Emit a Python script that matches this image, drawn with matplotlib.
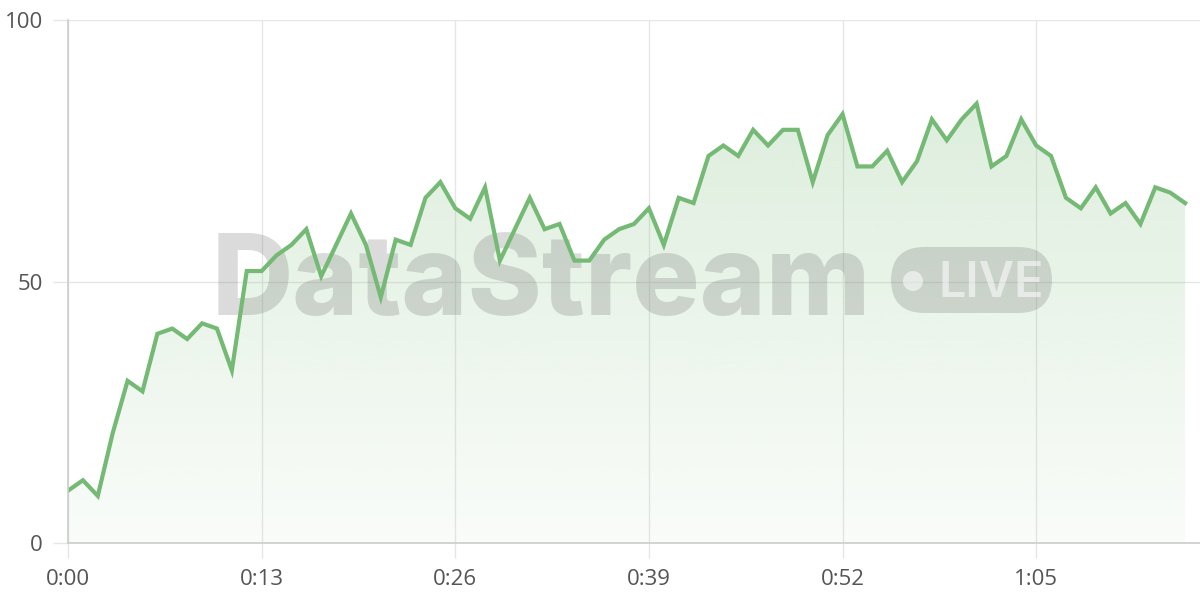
import matplotlib
matplotlib.use("Agg")
import matplotlib.pyplot as plt
import numpy as np
from matplotlib.patches import FancyBboxPatch, Ellipse
from matplotlib.ticker import FuncFormatter

# one reading per second
seconds = list(range(76))
values = [10, 12, 9, 21, 31, 29, 40, 41, 39, 42,
          41, 33, 52, 52, 55, 57, 60, 51, 57, 63,
          57, 47, 58, 57, 66, 69, 64, 62, 68, 54,
          60, 66, 60, 61, 54, 54, 58, 60, 61, 64,
          57, 66, 65, 74, 76, 74, 79, 76, 79, 79,
          69, 78, 82, 72, 72, 75, 69, 73, 81, 77,
          81, 84, 72, 74, 81, 76, 74, 66, 64, 68,
          63, 65, 61, 68, 67, 65]
x_ticks = [0, 13, 26, 39, 52, 65]
y_ticks = [0, 50, 100]

line_color = "#74b974"
grid_color = "#e6e6e6"

plt.rcParams['font.family'] = ['Open Sans', 'DejaVu Sans']

fig = plt.figure(figsize=(12, 6), dpi=100)
ax = fig.add_axes([68 / 1200, 57 / 600, 1 - 68 / 1200, (543 - 20) / 600])

ax.set_xlim(0, 76)
ax.set_ylim(0, 100)

# gradient fill under the line
fill = ax.fill_between(seconds, values, 0, color="none")
grad = np.linspace(0.04, 0.28, 256).reshape(-1, 1)
rgba = np.zeros((256, 1, 4))
rgba[..., 0] = 0x74 / 255
rgba[..., 1] = 0xb9 / 255
rgba[..., 2] = 0x74 / 255
rgba[..., 3] = grad
img = ax.imshow(rgba, extent=[0, 75, 0, 100], origin="lower",
                aspect="auto", zorder=1, interpolation="bicubic")
img.set_clip_path(fill.get_paths()[0], transform=ax.transData)

ax.plot(seconds, values, color=line_color, lw=3, zorder=4,
        solid_joinstyle="miter")

# watermark (positions in figure pixels, y from top)
def fx(px):
    return px / 1200

def fy(py):
    return (600 - py) / 600

ax.text(fx(212), fy(315), "DataStream", transform=fig.transFigure,
        ha="left", va="baseline", fontsize=81, fontweight="heavy",
        family=["Inter", "DejaVu Sans"], color="#7a7a7a", alpha=0.27,
        zorder=3)
badge = FancyBboxPatch((fx(891), fy(313)), 161 / 1200, 66 / 600,
                       boxstyle="round,pad=0,rounding_size=0.028",
                       transform=fig.transFigure, lw=0,
                       facecolor="#7a7a7a", alpha=0.27, zorder=3,
                       mutation_aspect=2)
ax.add_patch(badge)
ax.add_patch(Ellipse((fx(913), fy(281)), 20 / 1200, 20 / 600,
                     transform=fig.transFigure, color="white", alpha=0.55,
                     lw=0, zorder=3))
ax.text(fx(938), fy(297), "LIVE", transform=fig.transFigure,
        ha="left", va="baseline", fontsize=35, fontweight="semibold",
        color="white", alpha=0.55, family=["Inter", "DejaVu Sans"], zorder=3)

# axes styling
ax.set_xticks(x_ticks)
ax.set_yticks(y_ticks)
ax.xaxis.set_major_formatter(FuncFormatter(lambda v, p: f"{int(v) // 60}:{int(v) % 60:02d}"))
ax.grid(True, color=grid_color, lw=1, zorder=0)
ax.set_axisbelow(True)
ax.tick_params(axis="both", length=11, width=1, color=grid_color,
               labelsize=16, labelcolor="#555555")
ax.tick_params(axis="x", pad=8)
ax.tick_params(axis="y", pad=7)
for side in ["top", "right"]:
    ax.spines[side].set_visible(False)
for side in ["left", "bottom"]:
    ax.spines[side].set_color("#cccccc")
    ax.spines[side].set_linewidth(1.2)
    ax.spines[side].set_zorder(5)

fig.savefig("out.png", dpi=100)
